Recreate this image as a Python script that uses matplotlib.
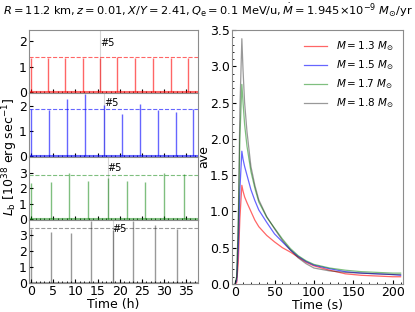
import numpy as np
import matplotlib
matplotlib.use('Agg')
import matplotlib.pyplot as plt
from matplotlib.ticker import MultipleLocator

# bursts (time in h, peak in 1e38 erg/s) for each mass
t_13 = [0.0, 3.9, 7.7, 11.6, 15.6, 19.4, 23.5, 27.5, 31.5, 35.4]
p_13 = [1.35, 1.35, 1.35, 1.35, 1.35, 1.37, 1.35, 1.36, 1.35, 1.33]
t_15 = [0.0, 4.1, 8.1, 12.2, 16.5, 20.5, 24.6, 28.7, 32.7, 36.6]
p_15 = [1.9, 1.85, 2.3, 2.5, 2.05, 1.7, 2.1, 1.85, 1.75, 1.88]
t_17 = [0.0, 4.4, 8.5, 12.9, 17.3, 21.6, 25.8, 30.1, 34.6]
p_17 = [2.35, 2.4, 3.0, 2.5, 2.65, 2.5, 2.4, 3.0, 2.95]
t_18 = [0.0, 4.5, 9.0, 13.5, 18.4, 23.1, 28.0, 32.9]
p_18 = [3.35, 3.2, 3.1, 3.85, 3.3, 3.9, 3.65, 3.4]

ref_lev = [1.38, 1.88, 2.85, 3.42]     # dashed line level
lab_y = [1.93, 2.13, 3.3, 3.4]         # y of "#5" label
ylims = [(-0.04, 2.45), (-0.04, 2.52), (-0.02, 4.05), (0.0, 3.95)]
yticks = [[0, 1, 2], [0, 1, 2], [0, 1, 2, 3], [0, 1, 2, 3]]

# average light curves (time in s)
t_ave = [0, 2, 4, 6, 8.5, 10, 12, 15, 20, 25, 30, 40, 50, 60, 70, 80, 90,
         100, 120, 140, 160, 180, 200, 210]
ave_13 = [0, 0.02, 0.3, 0.9, 1.36, 1.28, 1.2, 1.12, 1.0, 0.88, 0.79, 0.67, 0.58,
          0.5, 0.44, 0.37, 0.3, 0.25, 0.19, 0.14, 0.12, 0.11, 0.10, 0.10]
ave_15 = [0, 0.05, 0.5, 1.3, 1.83, 1.72, 1.62, 1.5, 1.3, 1.15, 1.02, 0.85,
          0.69, 0.58, 0.47, 0.38, 0.31, 0.26, 0.21, 0.17, 0.15, 0.14, 0.13, 0.12]
ave_17 = [0, 0.1, 0.8, 2.0, 2.75, 2.5, 2.2, 1.9, 1.55, 1.32, 1.13, 0.92, 0.77,
          0.62, 0.49, 0.39, 0.32, 0.27, 0.22, 0.19, 0.17, 0.16, 0.15, 0.15]
ave_18 = [0, 0.1, 0.9, 2.4, 3.38, 2.95, 2.5, 2.1, 1.62, 1.36, 1.16, 0.93, 0.76,
          0.6, 0.47, 0.36, 0.28, 0.22, 0.18, 0.16, 0.15, 0.14, 0.13, 0.13]

masses = ['1.3', '1.5', '1.7', '1.8']
cores = ['red', 'blue', 'green', 'black']
alfas = [0.6, 0.6, 0.5, 0.4]

plt.rcParams['font.size'] = 9
plt.rcParams['axes.edgecolor'] = '0.55'
plt.rcParams['xtick.direction'] = 'in'
plt.rcParams['ytick.direction'] = 'in'

fig = plt.figure(figsize=(4.15, 3.12), dpi=100)

#==============================================================
# painel esquerdo: 4 curvas de luz
x0, x1 = 29/415., 198/415.
y_bot, y_top = 1 - 283/312., 1 - 30/312.
h = (y_top - y_bot)/4.

tempos = [t_13, t_15, t_17, t_18]
picos = [p_13, p_15, p_17, p_18]

for i in range(4):
    ax = fig.add_axes([x0, y_top - (i+1)*h, x1 - x0, h])
    c = cores[i]
    ax.axvline(tempos[i][4], color='0.6', lw=0.8, alpha=0.4)
    ax.vlines(tempos[i], 0, picos[i], color=c, lw=1.0, alpha=alfas[i])
    ax.axhline(0, color=c, lw=1.5, alpha=alfas[i])
    ax.axhline(ref_lev[i], color=c, lw=0.8, ls='--', alpha=alfas[i])
    ax.text(tempos[i][4], lab_y[i], '#5', fontsize=7, ha='left', va='center')
    ax.set_xlim(-0.5, 37.7)
    ax.set_ylim(ylims[i])
    ax.set_yticks(yticks[i])
    ax.xaxis.set_major_locator(MultipleLocator(5))
    ax.xaxis.set_minor_locator(MultipleLocator(1))
    ax.tick_params(which='both', top=False, right=False, pad=1.5)
    ax.tick_params(which='major', length=3)
    ax.tick_params(which='minor', length=1.5)
    if i < 3:
        ax.tick_params(labelbottom=False)
    else:
        ax.set_xlabel('Time (h)', labelpad=0)

fig.text(0.025, (y_bot + y_top)/2., r'$L_{\rm b}$ [$10^{38}$ erg sec$^{-1}$]',
         rotation=90, ha='center', va='center', fontsize=9)

#==============================================================
# painel direito: curvas medias
ax2 = fig.add_axes([232/415., 1 - 284/312., (403-232)/415., (284-30)/312.])
medias = [ave_13, ave_15, ave_17, ave_18]
for i in range(4):
    ax2.plot(t_ave, medias[i], color=cores[i], lw=0.9, alpha=alfas[i],
             label=r'$M = %s\ M_{\odot}$' % masses[i])
ax2.set_xlim(-4, 213)
ax2.set_ylim(0, 3.5)
ax2.xaxis.set_major_locator(MultipleLocator(50))
ax2.xaxis.set_minor_locator(MultipleLocator(10))
ax2.yaxis.set_major_locator(MultipleLocator(0.5))
ax2.yaxis.set_minor_locator(MultipleLocator(0.1))
ax2.tick_params(which='both', top=False, right=False, pad=1.5)
ax2.tick_params(which='major', length=3)
ax2.tick_params(which='minor', length=1.5)
ax2.set_xlabel('Time (s)', labelpad=0)
ax2.set_ylabel('ave', labelpad=0)
ax2.legend(loc='upper right', frameon=False, fontsize=7.5, handlelength=2.2)

fig.text(0.5, 0.995, r'$R = 11.2$ km$, z = 0.01, X/Y = 2.41, Q_{\rm e} = 0.1$ MeV/u$, \dot{M} = 1.945{\times}10^{-9}\ M_{\odot}$/yr',
         ha='center', va='top', fontsize=8.2)

fig.savefig('out.png', dpi=100)
